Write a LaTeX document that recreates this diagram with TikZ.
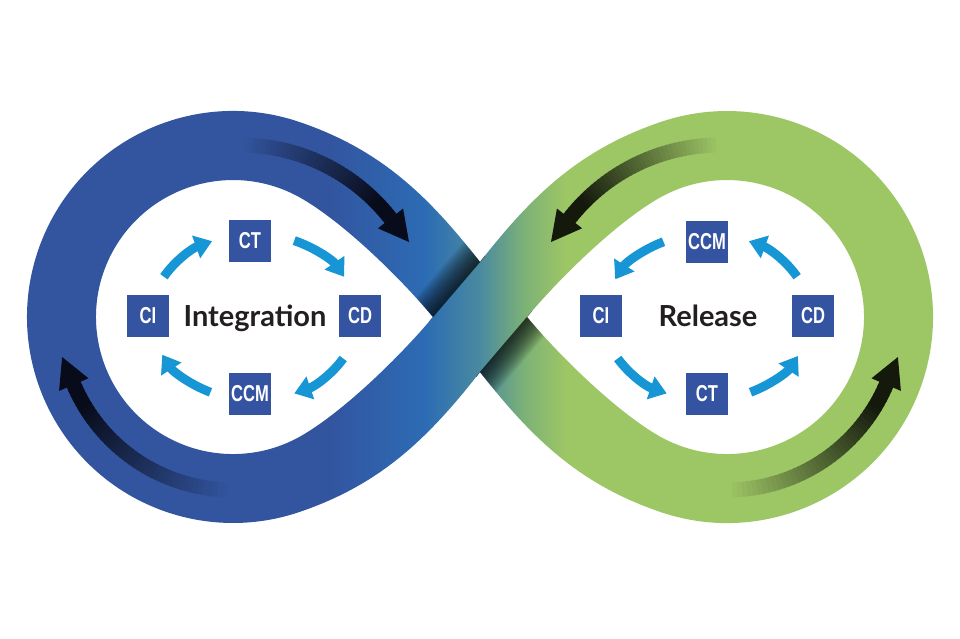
\documentclass[tikz,border=0pt]{standalone}
\usepackage{fontspec}
\usetikzlibrary{arrows.meta}
\newfontfamily\labelfont{Lato}
\newfontfamily\boxfont{Liberation Sans}
\definecolor{blueA}{RGB}{51,85,160}
\definecolor{blueB}{RGB}{44,108,180}
\definecolor{tealC}{RGB}{74,138,160}
\definecolor{greenB}{RGB}{125,178,118}
\definecolor{greenA}{RGB}{157,198,101}
\definecolor{darkblue}{RGB}{8,12,26}
\definecolor{darkgreen}{RGB}{20,25,12}
\definecolor{boxblue}{RGB}{52,83,161}
\definecolor{cycblue}{RGB}{22,150,212}
\definecolor{labelgray}{RGB}{35,31,32}
\pgfdeclarehorizontalshading{infgrad}{100bp}{color(0bp)=(blueA); color(42.19bp)=(blueA); color(47.14bp)=(blueB); color(50bp)=(tealC); color(52.34bp)=(greenB); color(54.43bp)=(greenA); color(100bp)=(greenA)}
\tikzset{
  boxnode/.style={fill=boxblue, text=white, minimum width=42pt, minimum height=42pt, inner sep=0pt, font=\boxfont\bfseries\fontsize{23}{23}\selectfont},
  cyc/.style={draw=cycblue, line width=9pt, -{Triangle[length=17pt,width=23pt]}},
  shaft/.style={line width=15pt, line cap=butt},
  biglabel/.style={text=labelgray, font=\labelfont\bfseries\fontsize{29}{29}\selectfont, anchor=base, inner sep=0pt}
}
\begin{document}
\begin{tikzpicture}[x=1pt,y=-1pt]
\fill[white] (0,0) rectangle (960,638);
\useasboundingbox (0,0) rectangle (960,638);

% infinity band
\begin{scope}[even odd rule]
\clip
  (480,262) .. controls (427.6,195) and (380.4,149.7) .. (300.1,122.2)
  arc[start angle=-71, end angle=-289, radius=206]
  .. controls (380.4,484.3) and (427.6,439) .. (480,372)
  .. controls (532.4,439) and (579.6,484.3) .. (659.9,511.8)
  arc[start angle=109, end angle=-109, radius=206]
  .. controls (579.6,149.7) and (532.4,195) .. cycle
  (433,317) .. controls (400.9,278.7) and (344.8,223.4) .. (301.5,198.4)
  arc[start angle=-60, end angle=-300, radius=137]
  .. controls (344.8,410.6) and (400.9,355.3) .. cycle
  (527,317) .. controls (559.1,278.7) and (615.2,223.4) .. (658.5,198.4)
  arc[start angle=-120, end angle=120, radius=137]
  .. controls (615.2,410.6) and (559.1,355.3) .. cycle;
\shade[shading=infgrad] (0,0) rectangle (960,638);
\begin{scope}[shift={(433,317)},rotate=49.5]
  \foreach \k in {1,...,16}{\fill[black,fill opacity=0.065] (-6,0) rectangle (80,{-1.6*\k});}
\end{scope}
\begin{scope}[shift={(480,372)},rotate=49.5]
  \foreach \k in {1,...,16}{\fill[black,fill opacity=0.065] (-6,0) rectangle (80,{1.6*\k});}
\end{scope}
\end{scope}

% dark flow arrows
\coordinate (cTL) at (240,336);
\coordinate (cBL) at (233,317);
\coordinate (cTR) at (720,336);
\coordinate (cBR) at (727,317);
\foreach \i in {0,...,39}{
  \pgfmathsetmacro\p{min(100,115*\i/40)}
  \pgfmathsetmacro\a{-90+52*\i/40}
  \pgfmathsetmacro\b{-90+52*(\i+1)/40+0.4}
  \draw[shaft, draw=darkblue!\p!blueA] (cTL) ++(\a:191) arc[start angle=\a, end angle=\b, radius=191];
  \pgfmathsetmacro\a{90+67*\i/40}
  \pgfmathsetmacro\b{90+67*(\i+1)/40+0.4}
  \draw[shaft, draw=darkblue!\p!blueA] (cBL) ++(\a:173) arc[start angle=\a, end angle=\b, radius=173];
  \pgfmathsetmacro\a{-90-52*\i/40}
  \pgfmathsetmacro\b{-90-52*(\i+1)/40-0.4}
  \draw[shaft, draw=darkgreen!\p!greenA] (cTR) ++(\a:191) arc[start angle=\a, end angle=\b, radius=191];
  \pgfmathsetmacro\a{90-67*\i/40}
  \pgfmathsetmacro\b{90-67*(\i+1)/40-0.4}
  \draw[shaft, draw=darkgreen!\p!greenA] (cBR) ++(\a:173) arc[start angle=\a, end angle=\b, radius=173];
}
\fill[darkblue] (409,242) -- (403.1,208.5) -- (377.9,228.3) -- cycle;
\fill[darkblue] (62.1,357) -- (59.1,390.9) -- (88.5,378.3) -- cycle;
\fill[darkgreen] (551,242) -- (556.9,208.5) -- (582.1,228.3) -- cycle;
\fill[darkgreen] (897.9,357) -- (900.9,390.9) -- (871.5,378.3) -- cycle;

% inner cycles
\coordinate (Lc) at (254,317);
\coordinate (Rc) at (707,317);
\draw[cyc] (Lc) ++(209:103 and 83) arc[start angle=209, end angle=246, x radius=103, y radius=83];
\draw[cyc] (Lc) ++(293:103 and 83) arc[start angle=293, end angle=331, x radius=103, y radius=83];
\draw[cyc] (Lc) ++(30:103 and 83) arc[start angle=30, end angle=67, x radius=103, y radius=83];
\draw[cyc] (Lc) ++(115:103 and 83) arc[start angle=115, end angle=153, x radius=103, y radius=83];
\draw[cyc] (Rc) ++(-115:103 and 83) arc[start angle=-115, end angle=-153, x radius=103, y radius=83];
\draw[cyc] (Rc) ++(150:103 and 83) arc[start angle=150, end angle=113, x radius=103, y radius=83];
\draw[cyc] (Rc) ++(65:103 and 83) arc[start angle=65, end angle=28, x radius=103, y radius=83];
\draw[cyc] (Rc) ++(-29:103 and 83) arc[start angle=-29, end angle=-66, x radius=103, y radius=83];

% boxes
\node[boxnode] (lCT) at (250,241) {\scalebox{0.72}[1]{CT}};
\node[boxnode] (lCI) at (148,316) {\scalebox{0.72}[1]{CI}};
\node[boxnode] (lCD) at (360,316) {\scalebox{0.72}[1]{CD}};
\node[boxnode] (lCCM) at (250,394) {\scalebox{0.72}[1]{CCM}};
\node[boxnode] (rCCM) at (707,242) {\scalebox{0.72}[1]{CCM}};
\node[boxnode] (rCI) at (601,316) {\scalebox{0.72}[1]{CI}};
\node[boxnode] (rCD) at (813,316) {\scalebox{0.72}[1]{CD}};
\node[boxnode] (rCT) at (707,394) {\scalebox{0.72}[1]{CT}};

% labels
\node[biglabel] (intl) at (255,326) {Integration};
\node[biglabel] (rell) at (708,326) {Release};
\end{tikzpicture}
\end{document}
